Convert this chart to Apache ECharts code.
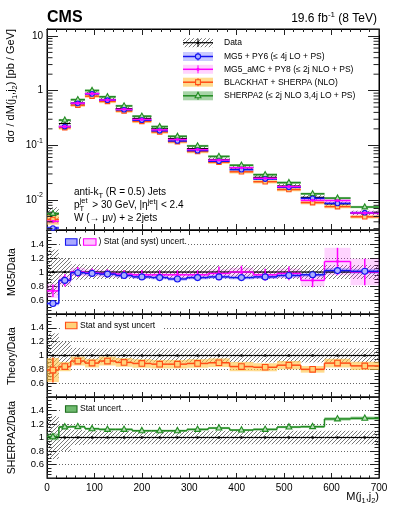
<!DOCTYPE html>
<html>
<head>
<meta charset="utf-8">
<script src="https://cdn.jsdelivr.net/npm/echarts@6.0.0/dist/echarts.min.js"></script>
<style>
html,body{margin:0;padding:0;background:#fff;}
#chart{width:399px;height:516px;}
</style>
</head>
<body>
<div id="chart"></div>
<script>
// ---------------- values ----------------
const binEdges = [0, 25, 50, 80, 110, 145, 180, 220, 255, 295, 340, 385, 435, 485, 535, 585, 640, 700];

const dataXs        = [0.0056, 0.25, 0.59, 0.89, 0.69, 0.47, 0.31, 0.20, 0.133, 0.087, 0.055, 0.039, 0.026, 0.018, 0.0112, 0.0085, 0.0058];
const dataRelUnc    = [0.32, 0.20, 0.11, 0.10, 0.10, 0.10, 0.10, 0.10, 0.10, 0.10, 0.10, 0.10, 0.10, 0.10, 0.10, 0.10, 0.10];
const dataSelfRatio = [1, 1, 1, 1, 1, 1, 1, 1, 1, 1, 1, 1, 1, 1, 1, 1, 1];

const mg5Xs       = [0.00308, 0.220, 0.584, 0.872, 0.669, 0.447, 0.288, 0.184, 0.120, 0.080, 0.0512, 0.0359, 0.0242, 0.0171, 0.01075, 0.00867, 0.00586];
const mg5XsUnc    = [0.08, 0.05, 0.05, 0.05, 0.05, 0.05, 0.05, 0.05, 0.05, 0.05, 0.05, 0.05, 0.05, 0.05, 0.05, 0.05, 0.05];
const mg5Ratio    = [0.55, 0.88, 0.99, 0.98, 0.97, 0.95, 0.93, 0.92, 0.90, 0.92, 0.93, 0.92, 0.93, 0.95, 0.96, 1.02, 1.01];
const mg5RatioUnc = [0.05, 0.03, 0.03, 0.03, 0.03, 0.03, 0.03, 0.03, 0.03, 0.03, 0.03, 0.03, 0.03, 0.03, 0.03, 0.035, 0.035];

const amcXs       = [0.00409, 0.220, 0.590, 0.881, 0.676, 0.456, 0.298, 0.192, 0.128, 0.0835, 0.0539, 0.0390, 0.0250, 0.0176, 0.00986, 0.00978, 0.0058];
const amcXsUnc    = [0.10, 0.06, 0.06, 0.06, 0.06, 0.06, 0.06, 0.06, 0.06, 0.06, 0.06, 0.06, 0.06, 0.07, 0.08, 0.10, 0.10];
const amcRatio    = [0.73, 0.88, 1.00, 0.99, 0.98, 0.97, 0.96, 0.96, 0.96, 0.96, 0.98, 1.00, 0.96, 0.98, 0.88, 1.15, 1.00];
const amcRatioErr = [0.12, 0.10, 0.07, 0.06, 0.06, 0.06, 0.07, 0.07, 0.07, 0.07, 0.10, 0.09, 0.09, 0.10, 0.11, 0.17, 0.19];
const amcRatioUnc = [0.14, 0.08, 0.06, 0.05, 0.05, 0.05, 0.05, 0.05, 0.05, 0.06, 0.06, 0.06, 0.06, 0.07, 0.10, 0.17, 0.19];

const bhXs        = [0.00442, 0.210, 0.543, 0.792, 0.635, 0.423, 0.274, 0.175, 0.1164, 0.0770, 0.0492, 0.0328, 0.0216, 0.0155, 0.00896, 0.00757, 0.00493];
const bhXsUnc     = [0.20, 0.08, 0.07, 0.07, 0.07, 0.07, 0.07, 0.07, 0.07, 0.07, 0.07, 0.07, 0.07, 0.07, 0.07, 0.07, 0.07];
const bhRatio     = [0.79, 0.84, 0.92, 0.89, 0.92, 0.90, 0.885, 0.875, 0.875, 0.885, 0.895, 0.84, 0.83, 0.86, 0.80, 0.89, 0.85];
const bhRatioErr  = [0.23, 0.04, 0.04, 0.03, 0.03, 0.03, 0.03, 0.03, 0.03, 0.03, 0.03, 0.03, 0.03, 0.03, 0.03, 0.03, 0.03];
const bhRatioUnc  = [0.22, 0.08, 0.07, 0.07, 0.07, 0.07, 0.07, 0.07, 0.07, 0.07, 0.07, 0.08, 0.07, 0.07, 0.06, 0.07, 0.07];

const shXs        = [0.00566, 0.289, 0.684, 1.006, 0.773, 0.526, 0.341, 0.220, 0.1463, 0.0974, 0.0627, 0.0433, 0.0291, 0.0208, 0.0130, 0.01084, 0.00745];
const shXsUnc     = [0.06, 0.05, 0.05, 0.05, 0.05, 0.05, 0.05, 0.05, 0.05, 0.05, 0.05, 0.05, 0.05, 0.05, 0.05, 0.05, 0.05];
const shRatio     = [1.01, 1.157, 1.16, 1.13, 1.12, 1.12, 1.10, 1.10, 1.10, 1.12, 1.14, 1.11, 1.12, 1.155, 1.16, 1.275, 1.285];
const shRatioUnc  = [0.05, 0.015, 0.015, 0.015, 0.015, 0.015, 0.015, 0.015, 0.015, 0.015, 0.015, 0.015, 0.015, 0.015, 0.015, 0.02, 0.02];

const xRange     = [0, 700];
const xsRange    = [0.00283, 13.4];
const ratioRange = [0.4, 1.6];

// ---------------- styling ----------------
const F = "'Liberation Sans', Arial, Helvetica, sans-serif";
const ST = {
  data: {line: '#000000', band: null, mfill: '#000000', marker: 'dot', lw: 1.2},
  mg5:  {line: '#1414f0', band: 'rgba(90,90,255,0.32)', mfill: '#aab0ff', marker: 'circle', lw: 1.5},
  amc:  {line: '#ff00ff', band: 'rgba(255,0,255,0.17)', mfill: '#ff00ff', marker: 'dot', lw: 1.5},
  bh:   {line: '#ff4c14', band: 'rgba(255,196,70,0.62)', mfill: '#ffd27a', marker: 'square', lw: 1.5},
  sh:   {line: '#228b22', band: 'rgba(60,160,60,0.45)', mfill: '#b5e0b5', marker: 'triangle', lw: 1.5}
};

function makeHatch() {
  const c = document.createElement('canvas');
  c.width = 4; c.height = 4;
  const g = c.getContext('2d');
  g.strokeStyle = '#555555'; g.lineWidth = 0.8;
  g.beginPath();
  g.moveTo(0, 4); g.lineTo(4, 0);
  g.moveTo(-1, 1); g.lineTo(1, -1);
  g.moveTo(3, 5); g.lineTo(5, 3);
  g.stroke();
  return c;
}
const hatchFill = {image: makeHatch(), repeat: 'repeat'};

function items(vals, a, b) {
  return vals.map((v, i) => [binEdges[i], binEdges[i + 1], v, a ? a[i] : 0, b ? b[i] : 0, i > 0 ? vals[i - 1] : v]);
}

function marker(type, x, y, s, st) {
  const style = {fill: st.mfill, stroke: st.line, lineWidth: 1.1};
  if (type === 'circle') return {type: 'circle', shape: {cx: x, cy: y, r: s}, style};
  if (type === 'square') return {type: 'rect', shape: {x: x - s, y: y - s, width: 2 * s, height: 2 * s}, style};
  if (type === 'triangle') return {type: 'polygon', shape: {points: [[x, y - s * 1.2], [x - s * 1.05, y + s * 0.7], [x + s * 1.05, y + s * 0.7]]}, style};
  return {type: 'circle', shape: {cx: x, cy: y, r: s * 0.6}, style: {fill: st.mfill}};
}

function bandSeries(g, vals, rel, fill, z) {
  return {
    type: 'custom', xAxisIndex: 2 * g, yAxisIndex: 2 * g, z, silent: true, animation: false,
    data: items(vals, rel, null),
    renderItem(params, api) {
      const lo = api.value(0), hi = api.value(1), v = api.value(2), r = api.value(3);
      const p1 = api.coord([lo, v * (1 + r)]), p2 = api.coord([hi, v * (1 - r)]);
      return {type: 'rect', shape: {x: p1[0], y: p1[1], width: p2[0] - p1[0], height: p2[1] - p1[1]}, style: {fill}};
    }
  };
}

function lineSeries(g, vals, err, st, step, msize, z) {
  return {
    type: 'custom', xAxisIndex: 2 * g, yAxisIndex: 2 * g, z, silent: true, animation: false,
    data: items(vals, null, err),
    renderItem(params, api) {
      const lo = api.value(0), hi = api.value(1), v = api.value(2), e = api.value(4), prev = api.value(5);
      const c = (lo + hi) / 2;
      const a = api.coord([lo, v]), b = api.coord([hi, v]), m = api.coord([c, v]);
      const ls = {stroke: st.line, lineWidth: st.lw};
      const ch = [];
      if (step) {
        const pp = api.coord([lo, prev]);
        ch.push({type: 'line', shape: {x1: pp[0], y1: pp[1], x2: a[0], y2: a[1]}, style: ls});
      }
      ch.push({type: 'line', shape: {x1: a[0], y1: a[1], x2: b[0], y2: b[1]}, style: ls});
      if (e > 0) {
        const t = api.coord([c, v * (1 + e)]), u = api.coord([c, v * (1 - e)]);
        ch.push({type: 'line', shape: {x1: t[0], y1: t[1], x2: u[0], y2: u[1]}, style: ls});
      }
      ch.push(marker(st.marker, m[0], m[1], msize, st));
      return {type: 'group', children: ch};
    }
  };
}

// minor ticks of the log axis (2..9 x 10^n), drawn through the axis scale
const logMinorTickValues = [];
for (let e = -3; e <= 1; e++) for (let k = 2; k <= 9; k++) {
  const v = k * Math.pow(10, e);
  if (v > xsRange[0] && v < xsRange[1]) logMinorTickValues.push(v);
}
const logMinorSeries = {
  type: 'custom', xAxisIndex: 0, yAxisIndex: 0, z: 10, silent: true, animation: false,
  data: logMinorTickValues.map(v => [v]),
  renderItem(params, api) {
    const v = api.value(0);
    const l = api.coord([xRange[0], v]), r = api.coord([xRange[1], v]);
    const s = {stroke: '#222', lineWidth: 1};
    return {type: 'group', children: [
      {type: 'line', shape: {x1: l[0], y1: l[1], x2: l[0] + 5.5, y2: l[1]}, style: s},
      {type: 'line', shape: {x1: r[0] - 5.5, y1: r[1], x2: r[0], y2: r[1]}, style: s}
    ]};
  }
};

// ---------------- axes ----------------
const GL = 47, GR = 20;
const grid = [
  {top: 29, height: 201},
  {top: 230, height: 84},
  {top: 314, height: 83},
  {top: 397, height: 81}
].map(g => Object.assign({left: GL, right: GR, show: true, borderColor: '#000', borderWidth: 1, backgroundColor: 'transparent', containLabel: false, outerBoundsMode: 'none'}, g));

function xAx(gi, top, labels, major, minor) {
  return {
    type: 'value', gridIndex: gi, position: top ? 'top' : 'bottom', min: xRange[0], max: xRange[1], interval: 100,
    axisLine: {show: true, onZero: false, lineStyle: {color: '#000', width: 1}},
    axisTick: {show: true, inside: true, length: major, lineStyle: {color: '#222', width: 1}},
    minorTick: {show: true, splitNumber: 5, length: minor, lineStyle: {color: '#222', width: 1}},
    axisLabel: {show: labels, fontFamily: F, fontSize: 10, color: '#000', margin: 5},
    splitLine: {show: false}, minorSplitLine: {show: false}
  };
}
function yLog(right) {
  return {
    type: 'log', logBase: 10, gridIndex: 0, position: right ? 'right' : 'left', min: xsRange[0], max: xsRange[1],
    axisLine: {show: true, onZero: false, lineStyle: {color: '#000', width: 1}},
    axisTick: {show: true, inside: true, length: 11, lineStyle: {color: '#222', width: 1}},
    axisLabel: {
      show: !right, showMinLabel: false, showMaxLabel: false, fontFamily: F, fontSize: 10, color: '#000', margin: 4,
      lineHeight: 16,
      formatter(v) {
        const l = Math.log10(v), e = Math.round(l);
        if (Math.abs(l - e) > 1e-6) return '';
        if (e >= 0) return String(Math.round(Math.pow(10, e)));
        return '10{sup|' + e + '}';
      },
      rich: {sup: {fontSize: 7, fontFamily: F, color: '#000', verticalAlign: 'top', lineHeight: 16}}
    },
    splitLine: {show: false}, minorTick: {show: false}
  };
}
function yRatio(gi, right) {
  return {
    type: 'value', gridIndex: gi, position: right ? 'right' : 'left', min: ratioRange[0], max: ratioRange[1], interval: 0.2,
    axisLine: {show: true, onZero: false, lineStyle: {color: '#000', width: 1}},
    axisTick: {show: true, inside: true, length: 9, lineStyle: {color: '#222', width: 1}},
    minorTick: {show: true, splitNumber: 4, length: 4.5, lineStyle: {color: '#222', width: 1}},
    axisLabel: {show: !right, showMinLabel: false, showMaxLabel: false, fontFamily: F, fontSize: 9.5, color: '#000', margin: 3},
    splitLine: {show: !right, lineStyle: {type: [1, 2], color: '#666', width: 1}},
    minorSplitLine: {show: false}
  };
}
const xAxis = [];
for (let g = 0; g < 4; g++) {
  const major = g === 0 ? 6 : 5, minor = g === 0 ? 3 : 2.5;
  xAxis.push(xAx(g, false, g === 3, major, minor));
  xAxis.push(xAx(g, true, false, major, minor));
}
const yAxis = [yLog(false), yLog(true)];
for (let g = 1; g < 4; g++) { yAxis.push(yRatio(g, false)); yAxis.push(yRatio(g, true)); }

// ---------------- series ----------------
const series = [];
// main panel
series.push(bandSeries(0, dataXs, dataRelUnc, hatchFill, 1));
series.push(bandSeries(0, shXs, shXsUnc, ST.sh.band, 2));
series.push(bandSeries(0, bhXs, bhXsUnc, ST.bh.band, 2));
series.push(bandSeries(0, amcXs, amcXsUnc, ST.amc.band, 2));
series.push(bandSeries(0, mg5Xs, mg5XsUnc, ST.mg5.band, 2));
series.push(lineSeries(0, dataXs, null, ST.data, false, 2.2, 4));
series.push(lineSeries(0, shXs, null, ST.sh, false, 2.6, 5));
series.push(lineSeries(0, bhXs, null, ST.bh, false, 2.2, 5));
series.push(lineSeries(0, mg5Xs, null, ST.mg5, false, 2.3, 5));
series.push(lineSeries(0, amcXs, null, ST.amc, false, 2.6, 6));
series.push(logMinorSeries);

// ratio panel helpers
function dataRatioSeries(g) {
  return [
    bandSeries(g, dataSelfRatio, dataRelUnc, hatchFill, 1),
    lineSeries(g, dataSelfRatio, null, ST.data, false, 2.2, 3)
  ];
}
// MG5 / Data
series.push(...dataRatioSeries(1));
series.push(bandSeries(1, amcRatio, amcRatioUnc, ST.amc.band, 2));
series.push(bandSeries(1, mg5Ratio, mg5RatioUnc, ST.mg5.band, 2));
series.push(lineSeries(1, amcRatio, amcRatioErr, ST.amc, true, 2.4, 4));
series.push(lineSeries(1, mg5Ratio, mg5RatioUnc, ST.mg5, true, 3, 5));
// Theory / Data
series.push(...dataRatioSeries(2));
series.push(bandSeries(2, bhRatio, bhRatioUnc, ST.bh.band, 2));
series.push(lineSeries(2, bhRatio, bhRatioErr, ST.bh, true, 2.8, 4));
// SHERPA2 / Data
series.push(...dataRatioSeries(3));
series.push(bandSeries(3, shRatio, shRatioUnc, ST.sh.band, 2));
series.push(lineSeries(3, shRatio, null, ST.sh, true, 2.8, 4));

// ---------------- texts and legends ----------------
const graphic = [];
function txt(x, y, text, size, extra) {
  graphic.push(Object.assign({type: 'text', x, y, silent: true, z: 100,
    style: Object.assign({text, fontFamily: F, fontSize: size, fill: '#000', align: 'left', verticalAlign: 'middle'}, extra || {})}));
}
const subR = {sub: {fontSize: 7.5, fontFamily: F, verticalAlign: 'bottom', lineHeight: 15}, sup: {fontSize: 7.5, fontFamily: F, verticalAlign: 'top', lineHeight: 15}};

txt(47, 18, 'CMS', 16, {fontWeight: 'bold'});
txt(377, 19, '19.6 fb{sup|-1} (8 TeV)', 12, {align: 'right', lineHeight: 16, rich: {sup: {fontSize: 8, fontFamily: F, verticalAlign: 'top', lineHeight: 16}}});

// main legend
const legX0 = 183, legX1 = 213, legXm = 198, legTx = 224;
const legRows = [
  {y: 42.7, st: ST.data, label: 'Data', hatch: true, ms: 2.2},
  {y: 56.5, st: ST.mg5, label: 'MG5 + PY6 (\u2264 4j LO + PS)', ms: 2.6},
  {y: 69.3, st: ST.amc, label: 'MG5_aMC + PY8 (\u2264 2j NLO + PS)', ms: 2.6},
  {y: 82.2, st: ST.bh, label: 'BLACKHAT + SHERPA (NLO)', ms: 2.4},
  {y: 95.8, st: ST.sh, label: 'SHERPA2 (\u2264 2j NLO 3,4j LO + PS)', ms: 2.8}
];
legRows.forEach(r => {
  graphic.push({type: 'rect', silent: true, z: 100, shape: {x: legX0, y: r.y - 4.5, width: legX1 - legX0, height: 9},
    style: {fill: r.hatch ? hatchFill : r.st.band}});
  graphic.push({type: 'line', silent: true, z: 101, shape: {x1: legX0, y1: r.y, x2: legX1, y2: r.y}, style: {stroke: r.st.line, lineWidth: r.st.lw}});
  graphic.push({type: 'line', silent: true, z: 101, shape: {x1: legXm, y1: r.y - 4, x2: legXm, y2: r.y + 4}, style: {stroke: r.st.line, lineWidth: 1}});
  const m = marker(r.st.marker, legXm, r.y, r.ms, r.st);
  graphic.push(Object.assign(m, {silent: true, z: 102}));
  txt(legTx, r.y, r.label, 8.5);
});

// annotations
txt(74, 192.7, 'anti-k{sub|T} (R = 0.5) Jets', 10, {lineHeight: 15, rich: subR});
txt(74, 205.7, 'p{subw|T} > 30 GeV, |\u03b7{sup|jet}| < 2.4', 10, {lineHeight: 15,
  rich: {subw: {fontSize: 7.5, fontFamily: F, verticalAlign: 'bottom', lineHeight: 15, width: 10}, sup: subR.sup}});
txt(79.6, 201.2, 'jet', 7.5);
txt(74, 217.9, 'W (\u2192 \u03bc\u03bd) + \u2265 2jets', 10);

// axis titles
txt(11, 29, 'd\u03c3 / dM(j{sub|1},j{sub|2}) [pb / GeV]', 11, {align: 'right', lineHeight: 15, rich: subR});
graphic[graphic.length - 1].rotation = Math.PI / 2;
txt(12, 272, 'MG5/Data', 10.5, {align: 'center'});
graphic[graphic.length - 1].rotation = Math.PI / 2;
txt(12, 356, 'Theory/Data', 10.5, {align: 'center'});
graphic[graphic.length - 1].rotation = Math.PI / 2;
txt(12, 437.5, 'SHERPA2/Data', 10.5, {align: 'center'});
graphic[graphic.length - 1].rotation = Math.PI / 2;
txt(379, 497, 'M(j{sub|1},j{sub|2})', 11, {align: 'right', lineHeight: 15, rich: subR});

// ratio legends
function box(x, y, w, h, fill, stroke) {
  graphic.push({type: 'rect', silent: true, z: 101, shape: {x, y, width: w, height: h}, style: {fill, stroke, lineWidth: 1.1}});
}
function bg(x, y, w, h) {
  graphic.push({type: 'rect', silent: true, z: 99, shape: {x, y, width: w, height: h}, style: {fill: '#fff'}});
}
bg(62, 236.5, 125, 11);
box(65.5, 238.8, 11.5, 6.5, '#a9a9ff', '#1414f0');
txt(78.6, 242.1, '(', 8.5);
box(83.5, 238.8, 12.5, 6.5, '#ffc6ff', '#ff00ff');
txt(98.5, 242.1, ') Stat (and syst) uncert.', 8.5);

bg(62, 319.5, 102, 11);
box(65.5, 322.2, 11.5, 6.5, '#ffd27a', '#ff4c14');
txt(80, 325.4, 'Stat and syst uncert', 8.5);

bg(62, 403.3, 62, 11);
box(65.5, 405.8, 11.5, 6.5, '#6fba6f', '#1e6e1e');
txt(80, 409, 'Stat uncert.', 8.5);

const option = {
  animation: false,
  backgroundColor: '#fff',
  grid, xAxis, yAxis, series, graphic
};
const chart = echarts.init(document.getElementById('chart'), null, {renderer: 'canvas', width: 399, height: 516});
chart.setOption(option);
</script>
</body>
</html>
